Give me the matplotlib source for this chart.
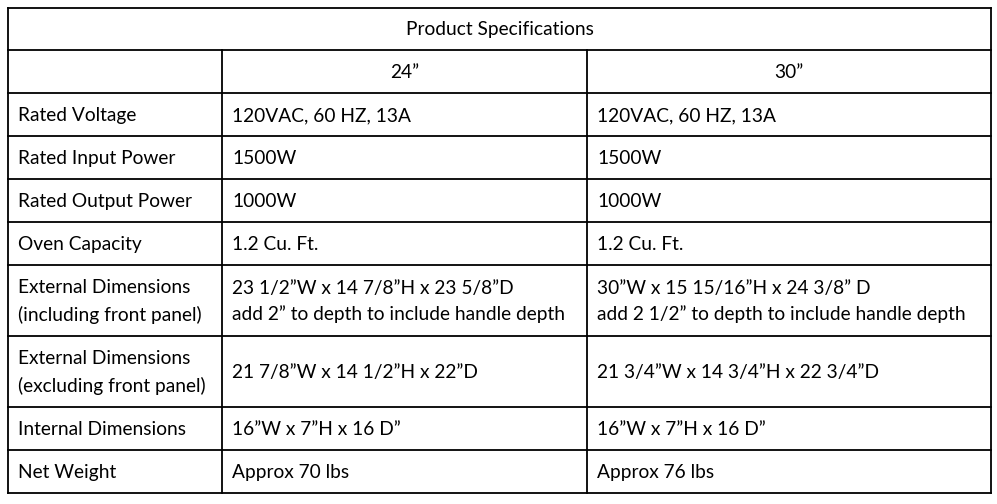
import matplotlib.pyplot as plt

title = "Product Specifications"
columns = ["", "24\u201d", "30\u201d"]
labels = ["Rated Voltage", "Rated Input Power", "Rated Output Power", "Oven Capacity",
          "External Dimensions\n(including front panel)",
          "External Dimensions\n(excluding front panel)",
          "Internal Dimensions", "Net Weight"]
values_24 = ["120VAC, 60 HZ, 13A", "1500W", "1000W", "1.2 Cu. Ft.",
             "23 1/2\u201dW x 14 7/8\u201dH x 23 5/8\u201dD\nadd 2\u201d to depth to include handle depth",
             "21 7/8\u201dW x 14 1/2\u201dH x 22\u201dD",
             "16\u201dW x 7\u201dH x 16 D\u201d", "Approx 70 lbs"]
values_30 = ["120VAC, 60 HZ, 13A", "1500W", "1000W", "1.2 Cu. Ft.",
             "30\u201dW x 15 15/16\u201dH x 24 3/8\u201d D\nadd 2 1/2\u201d to depth to include handle depth",
             "21 3/4\u201dW x 14 3/4\u201dH x 22 3/4\u201dD",
             "16\u201dW x 7\u201dH x 16 D\u201d", "Approx 76 lbs"]

row_edges = [8, 50, 93, 136, 179, 222, 265, 336, 407, 450, 493]
col_edges = [8, 222, 587, 991]

fig = plt.figure(figsize=(9.97, 5.04), dpi=100)
ax = fig.add_axes([0, 0, 1, 1])
ax.set_xlim(0, 997)
ax.set_ylim(504, 0)
ax.axis("off")

lw = 1.3
for y in row_edges:
    ax.plot([col_edges[0], col_edges[-1]], [y, y], color="black", lw=lw)
for i, x in enumerate(col_edges):
    y0 = row_edges[0] if i in (0, len(col_edges) - 1) else row_edges[1]
    ax.plot([x, x], [y0, row_edges[-1]], color="black", lw=lw)

fs = 13.8
font = ["Lato", "DejaVu Sans"]
ax.text((col_edges[0] + col_edges[-1]) / 2, (row_edges[0] + row_edges[1]) / 2 + 1, title,
        ha="center", va="center", fontsize=fs, family=font)
for j in (1, 2):
    ax.text((col_edges[j] + col_edges[j + 1]) / 2, (row_edges[1] + row_edges[2]) / 2 + 1,
            columns[j], ha="center", va="center", fontsize=fs, family=font)

for i, (lab, a, b) in enumerate(zip(labels, values_24, values_30)):
    yc = (row_edges[i + 2] + row_edges[i + 3]) / 2 + 1
    for x, t in zip(col_edges[:3], (lab, a, b)):
        ax.text(x + 10, yc, t, ha="left", va="center", fontsize=fs, family=font,
                linespacing=1.6)

fig.savefig("out.png", dpi=100)
